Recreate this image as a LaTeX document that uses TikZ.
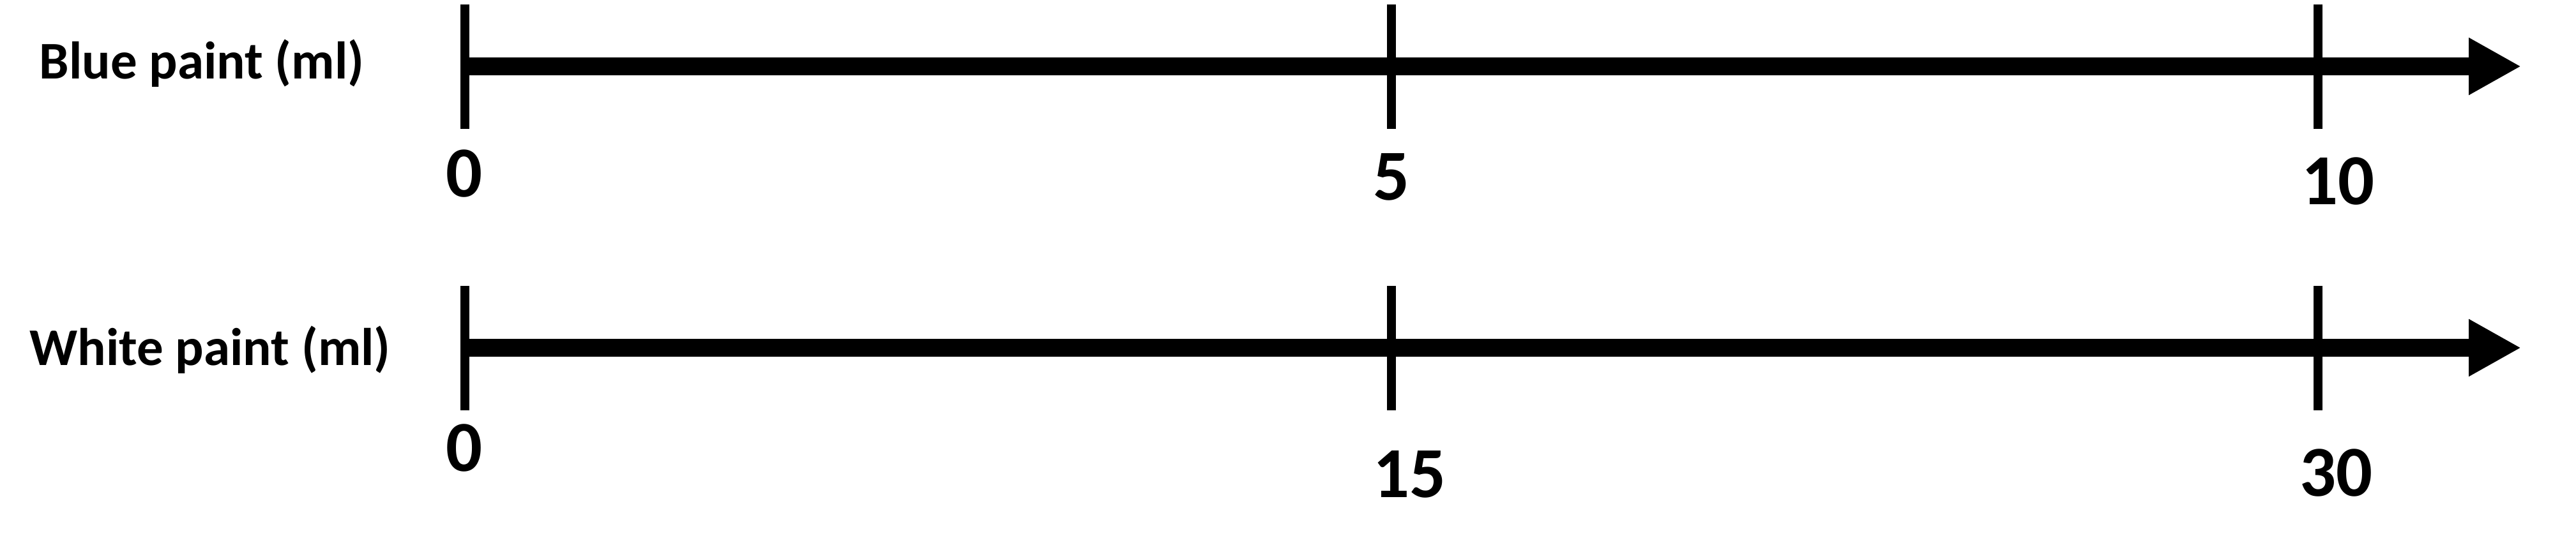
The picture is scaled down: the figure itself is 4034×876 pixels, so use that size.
\documentclass[tikz,border=0pt]{standalone}
\usepackage{fontspec}
\setmainfont{Carlito}
\usepackage{tikz}
\usetikzlibrary{positioning, arrows.meta}

\begin{document}
\begin{tikzpicture}[x=0.01cm, y=-0.01cm,
    axisline/.style={line width=0.28cm, -{Triangle[length=0.82cm, width=0.84cm]}},
    tickmark/.style={line width=0.14cm},
    rowlabel/.style={inner sep=0pt, anchor=base, font=\fontsize{23.6}{28}\selectfont\bfseries},
    ticklabel/.style={inner sep=0pt, anchor=base, font=\fontsize{32}{38}\selectfont\bfseries}
  ]
    \useasboundingbox (0,0) rectangle (4034,876);
    % blue paint
    \node[rowlabel] (blue) at (316,124) {Blue paint (ml)};
    \coordinate (b0) at (728,104);
    \coordinate (b5) at (2179,104);
    \coordinate (b10) at (3630,104);
    \coordinate (bend) at (3948,104);
    \draw[axisline] (b0) -- (bend);
    \draw[tickmark] (b0) ++(0,-97) -- ++(0,195);
    \draw[tickmark] (b5) ++(0,-97) -- ++(0,195);
    \draw[tickmark] (b10) ++(0,-97) -- ++(0,195);
    \node[ticklabel] (b0lbl) at (727,308) {0};
    \node[ticklabel] (b5lbl) at (2179,314) {5};
    \node[ticklabel] (b10lbl) at (3661,320) {10};
    % white paint
    \node[rowlabel] (white) at (329,572) {White paint (ml)};
    \coordinate (w0) at (728,545);
    \coordinate (w15) at (2179,545);
    \coordinate (w30) at (3630,545);
    \coordinate (wend) at (3948,545);
    \draw[axisline] (w0) -- (wend);
    \draw[tickmark] (w0) ++(0,-97) -- ++(0,195);
    \draw[tickmark] (w15) ++(0,-97) -- ++(0,195);
    \draw[tickmark] (w30) ++(0,-97) -- ++(0,195);
    \node[ticklabel] (w0lbl) at (727,738) {0};
    \node[ticklabel] (w15lbl) at (2207,779) {15};
    \node[ticklabel] (w30lbl) at (3658,777) {30};
\end{tikzpicture}
\end{document}
